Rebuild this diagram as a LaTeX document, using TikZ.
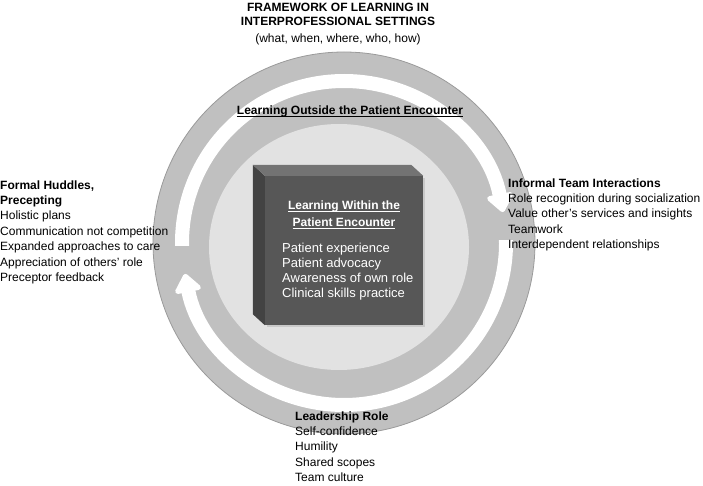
\documentclass[tikz,border=0pt]{standalone}
\usepackage{fontspec}
\setmainfont{Liberation Sans}
\usepackage{tikz}
\usetikzlibrary{arrows.meta,positioning,calc,shadows}
\usepackage{xcolor}

\definecolor{ringgray}{HTML}{C0C0C0}
\definecolor{diskgray}{HTML}{E2E2E2}
\definecolor{frontgray}{HTML}{575757}
\definecolor{topgray}{HTML}{737373}
\definecolor{sidegray}{HTML}{434343}
\definecolor{edgegray}{HTML}{9A9A9A}

% underline that crosses the descenders
\newcommand{\ultext}[1]{\setbox0\hbox{#1}\rlap{\rule[-2.4pt]{\wd0}{0.9pt}}\box0}

\begin{document}
\begin{tikzpicture}[x=1pt, y=1pt,
    ring/.style={fill=ringgray, draw=edgegray, line width=0.8pt},
    disk/.style={fill=diskgray},
    flow/.style={draw=white, line width=14pt, -{Triangle[width=30pt, length=20pt, round]}},
    front/.style={rectangle, fill=frontgray, minimum width=158pt, minimum height=149pt, inner sep=0pt,
        drop shadow={opacity=0.25, shadow xshift=2pt, shadow yshift=-2pt}},
    heading/.style={font=\fontsize{12}{14.2}\selectfont\bfseries, align=center, inner sep=0pt},
    items/.style={font=\fontsize{12}{15.4}\selectfont, align=left, inner sep=0pt, anchor=north west}
]
    \useasboundingbox (0,0) rectangle (703,485);
    \coordinate (c) at (344,242);

    % rings and circular arrows
    \filldraw[ring] (c) circle[radius=191];
    \draw[flow] ([shift={(181:162)}]c) arc[start angle=181, end angle=11, radius=162];
    \draw[flow] ([shift={(1:162)}]c) arc[start angle=1, end angle=-169, radius=162];
    \fill[disk] (339,238) ellipse[x radius=130, y radius=123];

    % the box
    \node[front] (box) at (344,234.5) {};
    \fill[sidegray] (box.south west) -- ++(-12,11) -- ($(box.north west)+(-12,11)$) -- (box.north west) -- cycle;
    \fill[topgray] (box.north west) -- ++(-12,11) -- ($(box.north east)+(-12,11)$) -- (box.north east) -- cycle;

    % texts
    \node[heading, anchor=north] (title) at (338,481.9) {FRAMEWORK OF LEARNING IN\\INTERPROFESSIONAL SETTINGS};
    \node[font=\fontsize{12}{14}\selectfont, anchor=base, inner sep=0pt] (scope) at (338,442) {(what, when, where, who, how)};
    \node[font=\fontsize{12}{14}\selectfont\bfseries, anchor=base, inner sep=0pt] (outside) at (350,370) {\ultext{Learning Outside the Patient Encounter}};
    \node[font=\fontsize{12}{17}\selectfont\bfseries, align=center, text=white, anchor=north, inner sep=0pt] (within) at (344,284.7)
        {\ultext{Learning Within the}\\\ultext{Patient Encounter}};
    \node[items, text=white, font=\fontsize{13}{15}\selectfont] (encounter) at (282,242.4)
        {Patient experience\\Patient advocacy\\Awareness of own role\\Clinical skills practice};
    \node[items] (huddles) at (0,304.7)
        {\textbf{Formal Huddles,}\\\textbf{Precepting}\\Holistic plans\\Communication not competition\\Expanded approaches to care\\Appreciation of others' role\\Preceptor feedback};
    \node[items] (informal) at (508,306.7)
        {\textbf{Informal Team Interactions}\\Role recognition during socialization\\Value other’s services and insights\\Teamwork\\Interdependent relationships};
    \node[items] (leader) at (295,73.7)
        {\textbf{Leadership Role}\\Self-confidence\\Humility\\Shared scopes\\Team culture};
\end{tikzpicture}
\end{document}
